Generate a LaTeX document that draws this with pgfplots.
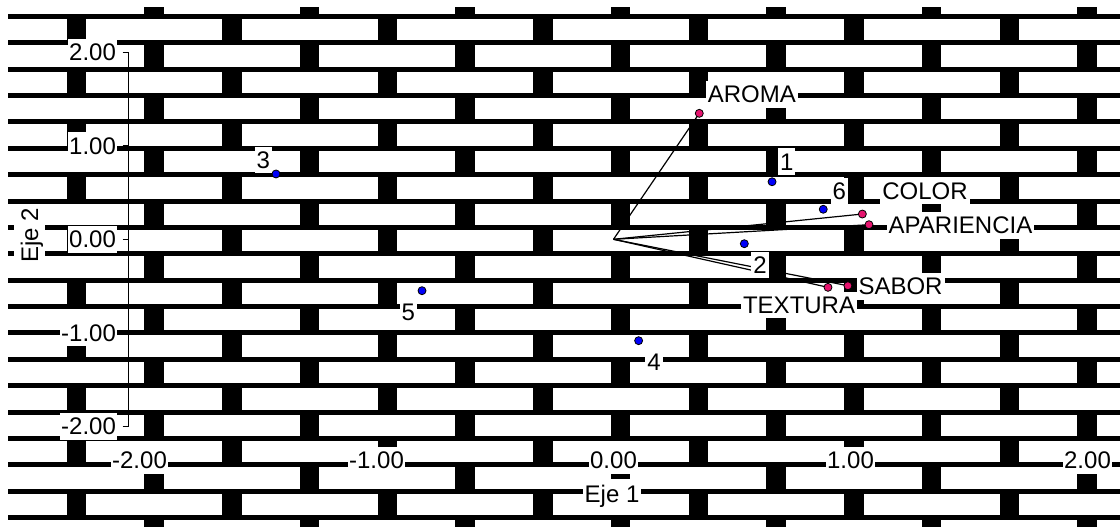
\documentclass[border=0pt]{standalone}
\usepackage{fontspec}
\setmainfont{Liberation Sans}
\usepackage{pgfplots}
\pgfplotsset{compat=1.18}
\usepackage{pgfplotstable}
\definecolor{varc}{RGB}{230,20,110}
\definecolor{obsc}{RGB}{0,0,250}

% variables (biplot vectors)
\pgfplotstableread{
x y
0.362 1.346
1.050 0.270
1.078 0.156
0.905 -0.513
0.989 -0.496
}\vars
% observations
\pgfplotstableread{
x y
0.669 0.615
0.552 -0.047
-1.424 0.698
0.106 -1.083
-0.808 -0.549
0.885 0.321
}\obs

\begin{document}
\fontsize{12}{14}\selectfont
\begin{tikzpicture}
\useasboundingbox (0,0) rectangle (560pt,263.5pt);
% brick background
\begin{scope}[x=1pt,y=1pt]
\foreach \k in {0,...,19} {
  \pgfmathsetmacro{\yt}{263.5-0.5*(14+26.37*\k)}
  \fill[black] (4,{\yt-2.5}) rectangle (560,\yt);
}
\foreach \r in {0,...,20} {
  \pgfmathsetmacro{\ytop}{\r==0 ? 263.5-0.5*7 : 263.5-0.5*(14+26.37*(\r-1))}
  \pgfmathsetmacro{\ybot}{\r==20 ? 0 : 263.5-0.5*(14+26.37*\r)}
  \pgfmathsetmacro{\xo}{mod(\r,2)==0 ? 144 : 66.5}
  \foreach \n in {0,...,6} {
    \fill[black] ({0.5*(\xo+155.5*\n)},\ybot) rectangle ({0.5*(\xo+155.5*\n+19.5)},\ytop);
  }
}
\end{scope}
\tikzset{lbl/.style={fill=white, inner xsep=1pt, inner ysep=0pt, text height=0.905em, text depth=0.212em, font=\fontsize{12}{14}\selectfont}}
\begin{axis}[
  at={(64.3pt,50.25pt)}, anchor=south west, scale only axis,
  width=491.3pt, height=187.2pt,
  xmin=-2.046, xmax=2.1, ymin=-2, ymax=2,
  clip=false,
  axis x line*=bottom, axis y line*=left,
  x axis line style={draw=none},
  y axis line style={-, black, line width=0.5pt},
  xtick={-2,-1,0,1,2}, ytick={-2,-1,0,1,2},
  tick align=outside, major tick length=3pt,
  xtick style={draw=none},
  ytick style={black, line width=0.5pt},
  tick label style={font=\fontsize{12}{14}\selectfont, fill=white, inner xsep=0.5pt, inner ysep=0pt, text height=0.905em, text depth=0.212em},
  xticklabel style={anchor=base, yshift=-18.2pt},
  yticklabel style={anchor=east, xshift=-2.65pt},
  /pgf/number format/.cd, fixed, fixed zerofill, precision=2, assume math mode=true, /pgfplots/.cd,
  xlabel={Eje 1}, ylabel={Eje 2},
  label style={font=\fontsize{12}{14}\selectfont, fill=white, inner xsep=1pt, inner ysep=1pt, text height=0.905em, text depth=0.212em},
  xlabel style={at={(rel axis cs:0.492,0)}, anchor=base, yshift=-37.9pt},
  ylabel style={at={(rel axis cs:-0.1006,0.5115)}, anchor=center},
]
% vectors
\addplot[black, line width=0.6pt] coordinates {(0,0) (0.362,1.346)};
\addplot[black, line width=0.6pt] coordinates {(0,0) (1.050,0.270)};
\addplot[black, line width=0.6pt] coordinates {(0,0) (1.078,0.156)};
\addplot[black, line width=0.6pt] coordinates {(0,0) (0.905,-0.513)};
\addplot[black, line width=0.6pt] coordinates {(0,0) (0.989,-0.496)};
% labels
\node[lbl] at (axis cs:0.584,1.547) {AROMA};
\node[lbl] at (axis cs:1.314,0.516) {COLOR};
\node[lbl] at (axis cs:1.464,0.150) {APARIENCIA};
\node[lbl] at (axis cs:1.211,-0.504) {SABOR};
\node[lbl] at (axis cs:0.783,-0.702) {TEXTURA};
\node[lbl] at (axis cs:0.731,0.829) {1};
\node[lbl] at (axis cs:0.618,-0.275) {2};
\node[lbl] at (axis cs:-1.478,0.847) {3};
\node[lbl] at (axis cs:0.171,-1.308) {4};
\node[lbl] at (axis cs:-0.866,-0.774) {5};
\node[lbl] at (axis cs:0.953,0.509) {6};
% points
\addplot[only marks, mark=*, mark size=2pt, mark options={draw=black, fill=varc, line width=0.4pt}] table[x=x,y=y] {\vars};
\addplot[only marks, mark=*, mark size=2pt, mark options={draw=black, fill=obsc, line width=0.4pt}] table[x=x,y=y] {\obs};
\end{axis}
\end{tikzpicture}
\end{document}
